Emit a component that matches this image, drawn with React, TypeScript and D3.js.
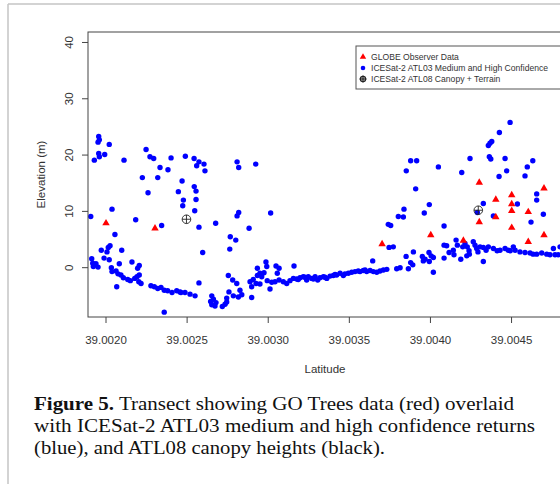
import React from "react";
import * as d3 from "d3";

// ICESat-2 ATL03 medium & high confidence returns [latitude, elevation m]
const atl03Points: [number, number][] = [
  [39.001955, 23.3], [39.001959, 22.7], [39.001951, 22.3], [39.00202, 21.9], [39.001955, 20.3],
  [39.001959, 19.7], [39.001992, 20.1], [39.001928, 19.1], [39.002111, 19.1], [39.002247, 21.0],
  [39.002271, 19.7], [39.002294, 19.4], [39.002401, 19.5], [39.002489, 19.8], [39.002333, 17.8],
  [39.002382, 17.4], [39.002224, 16.0], [39.002319, 16.0], [39.002469, 15.4], [39.002259, 13.3],
  [39.002446, 13.5], [39.002477, 12.0], [39.002473, 11.0], [39.002037, 10.4], [39.001906, 9.1],
  [39.002183, 8.5], [39.002343, 7.5], [39.002055, 5.9], [39.002025, 3.9], [39.002014, 3.6],
  [39.002006, 2.8], [39.001971, 3.1], [39.002097, 3.1], [39.001988, 1.7], [39.00202, 1.4],
  [39.001912, 1.6], [39.001918, 0.8], [39.001938, 0.7], [39.001922, 0.2], [39.001951, 0.1],
  [39.002082, 0.7], [39.00216, 1.0], [39.002205, 0.4], [39.002195, -0.1], [39.002033, 0.0],
  [39.002037, -0.7], [39.002062, -0.6], [39.002074, -1.1], [39.002092, -1.3], [39.002107, -1.8],
  [39.002134, -2.1], [39.00215, -2.3], [39.002177, -1.9], [39.002191, -1.6], [39.002205, -1.3],
  [39.002202, -2.5], [39.002216, -2.8], [39.002066, -3.4], [39.002277, -3.2], [39.002298, -3.4],
  [39.002319, -3.7], [39.002339, -3.5], [39.002359, -4.0], [39.00238, -4.1], [39.002407, -4.4],
  [39.002436, -4.1], [39.002462, -4.4], [39.002487, -4.4], [39.002359, -7.9],
  [39.002543, 19.4], [39.002573, 18.8], [39.002559, 18.1], [39.002604, 18.4], [39.00261, 17.2],
  [39.002808, 18.8], [39.002818, 17.8], [39.002923, 18.4], [39.002544, 14.4], [39.002555, 13.6],
  [39.002555, 12.1], [39.002547, 10.1], [39.002818, 9.8], [39.002808, 9.2], [39.003015, 9.7],
  [39.002573, 7.2], [39.002676, 7.9], [39.002882, 7.0], [39.002766, 5.5], [39.0028, 4.9],
  [39.002763, 3.3], [39.002596, 2.7], [39.002573, -2.7], [39.002754, -1.4], [39.002781, -2.2],
  [39.002806, -2.8], [39.002758, -4.3], [39.002826, -4.0], [39.002837, -4.8], [39.002816, -5.2],
  [39.002785, -5.0], [39.002518, -4.7], [39.002549, -5.0], [39.002652, -5.0], [39.002662, -5.6],
  [39.002645, -6.0], [39.002678, -6.2], [39.002652, -6.6], [39.002672, -6.8], [39.002717, -6.9],
  [39.002734, -6.5], [39.002744, -5.4], [39.002744, -6.1], [39.002888, -2.5], [39.002908, -2.1],
  [39.002898, -3.4], [39.002898, -5.3], [39.002933, -0.1], [39.002949, -1.0], [39.002933, -1.4],
  [39.00296, -1.6], [39.002925, -2.8], [39.002949, -2.9], [39.002986, 1.0], [39.002991, 0.2],
  [39.002974, -0.9], [39.002994, -2.3], [39.003011, -3.8], [39.003022, -2.6], [39.003048, 0.3],
  [39.003056, -1.0], [39.003042, -2.5], [39.002456, -4.3],
  [39.003067, -0.1], [39.003159, 0.3], [39.003067, -2.2], [39.003093, -2.5], [39.003114, -2.8],
  [39.003134, -2.3], [39.003155, -1.9], [39.003176, -2.0], [39.003196, -1.8], [39.003216, -1.6],
  [39.003237, -2.2], [39.003247, -1.6], [39.003268, -1.9], [39.003289, -1.6], [39.003305, -2.2],
  [39.003319, -1.8], [39.00334, -1.6], [39.003361, -1.9], [39.003381, -1.5], [39.003401, -1.4],
  [39.003422, -1.3], [39.003443, -1.0], [39.003463, -1.4], [39.003473, -1.1], [39.003515, -0.8],
  [39.003535, -0.7], [39.003566, -0.7], [39.003586, -0.5], [39.003607, -0.7], [39.003628, -0.5],
  [39.003644, 1.2], [39.003185, -2.1], [39.003226, -1.7], [39.003278, -2.0], [39.00335, -1.7],
  [39.003412, -1.2], [39.003494, -1.0], [39.003555, -0.6], [39.003597, -0.4],
  [39.003648, -0.7], [39.003669, -0.8], [39.003689, -0.6], [39.00371, -0.4], [39.003731, -0.3],
  [39.003792, -0.2], [39.003813, 0.0], [39.003864, -0.2], [39.00385, 2.0], [39.003895, 2.8],
  [39.003878, 0.9], [39.003891, 0.5], [39.003745, 3.6], [39.003771, 3.7], [39.00374, 7.7],
  [39.003755, 7.5], [39.003802, 9.1], [39.003833, 9.0], [39.003837, 10.4], [39.003909, 14.0],
  [39.003851, 17.2], [39.003878, 19.0], [39.003915, 19.0], [39.004049, 17.9], [39.003962, 9.7],
  [39.003993, 11.2], [39.004084, 7.4], [39.004193, 16.9], [39.004244, 19.4], [39.00395, 2.0],
  [39.003967, 1.5], [39.003991, 2.7], [39.004004, 2.1], [39.004018, 1.8], [39.003993, 1.1],
  [39.003956, 1.2], [39.004018, -0.8], [39.004084, 4.0], [39.0041, 3.9], [39.004115, 2.7],
  [39.004084, 1.7], [39.004141, 3.1], [39.004145, 2.3], [39.004158, 4.9], [39.004166, 4.0],
  [39.004187, 1.5], [39.004199, 3.7], [39.004213, 4.3], [39.004227, 3.7], [39.004224, 2.1],
  [39.004238, 3.0],
  [39.004491, 25.8], [39.004425, 24.0], [39.004378, 22.4], [39.004367, 22.1], [39.004357, 21.7],
  [39.004363, 19.7], [39.004372, 19.3], [39.00446, 19.4], [39.004631, 19.0], [39.004597, 17.9],
  [39.00447, 17.2], [39.004423, 16.2], [39.004583, 16.3], [39.004655, 13.1], [39.004655, 12.0],
  [39.004536, 11.3], [39.004326, 11.4], [39.004696, 9.5], [39.004388, 9.2], [39.00462, 8.1],
  [39.004264, 4.6], [39.004275, 4.0], [39.004285, 3.4], [39.004306, 3.7], [39.004326, 3.6],
  [39.004357, 3.7], [39.004388, 3.4], [39.004429, 3.1], [39.00446, 3.4], [39.00448, 3.1],
  [39.004511, 3.7], [39.004522, 3.1], [39.004552, 2.8], [39.004583, 2.7], [39.004614, 2.6],
  [39.004655, 2.4], [39.004686, 2.6], [39.004717, 2.4], [39.004758, 3.4], [39.004768, 2.3],
  [39.004788, 2.3], [39.004799, 3.7], [39.004326, 1.1], [39.00424, 2.4], [39.004293, 2.8],
  [39.004343, 3.1], [39.004411, 3.0], [39.004492, 3.0], [39.004633, 2.4], [39.004737, 2.3],
  [39.004289, 9.8],
];

// GLOBE Observer data [latitude, elevation m]
const globePoints: [number, number][] = [
  [39.002, 7.9], [39.002302, 7.0], [39.003702, 4.2], [39.004002, 5.8], [39.004203, 4.8],
  [39.004301, 15.1], [39.004403, 12.1], [39.004403, 9.0], [39.004301, 8.1], [39.004501, 12.9],
  [39.004501, 11.3], [39.004501, 10.1], [39.004501, 7.1], [39.004603, 9.9], [39.004603, 4.6],
  [39.0047, 14.1], [39.0047, 5.8],
];

// ICESat-2 ATL08 canopy + terrain [latitude, elevation m]
const atl08Points: [number, number][] = [
  [39.002496, 8.6], [39.004295, 10.2],
];

const xTicks = [39.002, 39.0025, 39.003, 39.0035, 39.004, 39.0045];
const yTicks = [0, 10, 20, 30, 40];

const legendLabels = [
  "GLOBE Observer Data",
  "ICESat-2 ATL03 Medium and High Confidence",
  "ICESat-2 ATL08 Canopy + Terrain",
];

const captionBold = "Figure 5.";
const captionLines = [
  " Transect showing GO Trees data (red) overlaid",
  "with ICESat-2 ATL03 medium and high confidence returns",
  "(blue), and ATL08 canopy heights (black).",
];

const W = 560;
const H = 484;
const plot = { left: 88, right: 562, top: 32, bottom: 317 };

export default function App() {
  const x = d3.scaleLinear().domain([39.001889, 39.004811]).range([plot.left, plot.right]);
  const y = d3.scaleLinear().domain([-8.76, 41.86]).range([plot.bottom, plot.top]);
  const tri = d3.symbol(d3.symbolTriangle, 24)() || "";
  const triLegend = d3.symbol(d3.symbolTriangle, 18)() || "";
  const sans = "'Liberation Sans', Arial, sans-serif";
  const serif = "'Liberation Serif', 'Times New Roman', serif";
  const axisColor = "#444";
  const textColor = "#333";

  return (
    <svg
      width={W}
      height={H}
      viewBox={`0 0 ${W} ${H}`}
      style={{ position: "absolute", left: 0, top: 0, background: "#fff" }}
    >
      <rect x={0} y={0} width={W} height={H} fill="#fff" />
      {/* page frame */}
      <line x1={8} y1={4} x2={W} y2={4} stroke="#c4c4c4" strokeWidth={1.5} />
      <line x1={8} y1={4} x2={8} y2={H} stroke="#c4c4c4" strokeWidth={1.5} />

      <defs>
        <clipPath id="plotclip">
          <rect x={plot.left} y={plot.top} width={plot.right - plot.left} height={plot.bottom - plot.top} />
        </clipPath>
      </defs>

      <g clipPath="url(#plotclip)">
        {atl03Points.map((d, i) => (
          <circle key={"b" + i} cx={x(d[0])} cy={y(d[1])} r={2.7} fill="#0000ff" />
        ))}
        {globePoints.map((d, i) => (
          <path key={"r" + i} d={tri} transform={`translate(${x(d[0])},${y(d[1])})`} fill="#ff0000" />
        ))}
        {atl08Points.map((d, i) => {
          const cx = x(d[0]);
          const cy = y(d[1]);
          return (
            <g key={"k" + i} stroke="#222" strokeWidth={0.9} fill="none">
              <circle cx={cx} cy={cy} r={4.3} />
              <line x1={cx - 4.3} y1={cy} x2={cx + 4.3} y2={cy} />
              <line x1={cx} y1={cy - 4.3} x2={cx} y2={cy + 4.3} />
            </g>
          );
        })}
      </g>

      {/* plot box */}
      <rect
        x={plot.left}
        y={plot.top}
        width={plot.right - plot.left}
        height={plot.bottom - plot.top}
        fill="none"
        stroke={axisColor}
        strokeWidth={1}
      />

      {/* x axis */}
      {xTicks.map((t) => (
        <g key={"xt" + t}>
          <line x1={x(t)} y1={plot.bottom} x2={x(t)} y2={plot.bottom + 6} stroke={axisColor} />
          <text x={x(t)} y={344} textAnchor="middle" fontFamily={sans} fontSize={11.5} fill={textColor}>
            {t.toFixed(4)}
          </text>
        </g>
      ))}
      <text x={325} y={373} textAnchor="middle" fontFamily={sans} fontSize={11.5} fill={textColor}>
        Latitude
      </text>

      {/* y axis */}
      {yTicks.map((t) => (
        <g key={"yt" + t}>
          <line x1={plot.left - 6} y1={y(t)} x2={plot.left} y2={y(t)} stroke={axisColor} />
          <text
            transform={`translate(72.5,${y(t)}) rotate(-90)`}
            textAnchor="middle"
            fontFamily={sans}
            fontSize={11.5}
            fill={textColor}
          >
            {t}
          </text>
        </g>
      ))}
      <text
        transform={`translate(44.5,${(plot.top + plot.bottom) / 2}) rotate(-90)`}
        textAnchor="middle"
        fontFamily={sans}
        fontSize={11.5}
        fill={textColor}
      >
        Elevation (m)
      </text>

      {/* legend */}
      <rect x={356} y={46} width={214} height={43} fill="#fff" stroke="#555" strokeWidth={1} />
      <path d={triLegend} transform="translate(363,57)" fill="#ff0000" />
      <circle cx={363} cy={68} r={2.3} fill="#0000ff" />
      <g stroke="#222" strokeWidth={1.2} fill="none">
        <circle cx={363} cy={79} r={2.6} />
        <line x1={359.5} y1={79} x2={366.5} y2={79} />
        <line x1={363} y1={75.5} x2={363} y2={82.5} />
      </g>
      {legendLabels.map((l, i) => (
        <text key={l} x={371} y={60 + i * 11.2} fontFamily={sans} fontSize={8.6} fill={textColor}>
          {l}
        </text>
      ))}

      {/* caption */}
      <text x={34} y={410} fontFamily={serif} fontSize={18} fontWeight="bold" fill="#111"
        textLength={80} lengthAdjust="spacingAndGlyphs">
        {captionBold}
      </text>
      <text x={114} y={410} fontFamily={serif} fontSize={18} fill="#111"
        textLength={400} lengthAdjust="spacingAndGlyphs" style={{ whiteSpace: "pre" }}>
        {captionLines[0]}
      </text>
      <text x={34} y={432} fontFamily={serif} fontSize={18} fill="#111"
        textLength={501} lengthAdjust="spacingAndGlyphs">
        {captionLines[1]}
      </text>
      <text x={34} y={454} fontFamily={serif} fontSize={18} fill="#111"
        textLength={351} lengthAdjust="spacingAndGlyphs">
        {captionLines[2]}
      </text>
    </svg>
  );
}
